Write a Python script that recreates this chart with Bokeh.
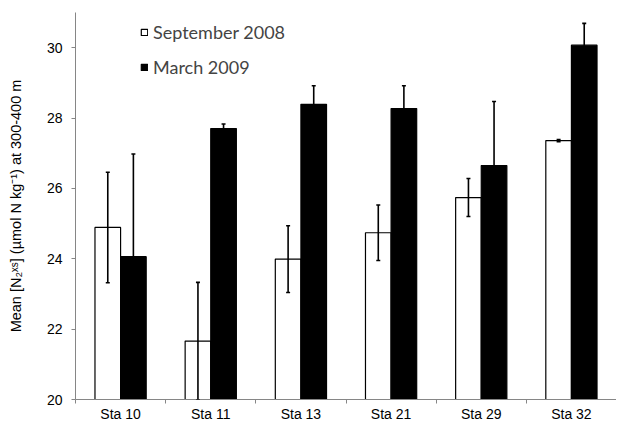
from bokeh.plotting import figure
from bokeh.models import (ColumnDataSource, Range1d, FixedTicker, Whisker, TeeHead,
                          Legend, LegendItem)
from bokeh.transform import dodge
from bokeh.embed import file_html
from bokeh.resources import INLINE

# ---- data ----
stations = ["Sta 10", "Sta 11", "Sta 13", "Sta 21", "Sta 29", "Sta 32"]
sep_mean = [24.89, 21.66, 23.99, 24.74, 25.74, 27.36]
sep_err = [1.57, 1.67, 0.95, 0.79, 0.54, 0.03]
mar_mean = [24.06, 27.70, 28.39, 28.27, 26.65, 30.07]
mar_err = [2.92, 0.13, 0.53, 0.65, 1.82, 0.62]
y_ticks = [20, 22, 24, 26, 28, 30]
series_names = ["September 2008", "March 2009"]

idx = list(range(len(stations)))
src = ColumnDataSource(dict(
    x=idx,
    sep=sep_mean,
    sep_lo=[m - e for m, e in zip(sep_mean, sep_err)],
    sep_hi=[m + e for m, e in zip(sep_mean, sep_err)],
    mar=mar_mean,
    mar_lo=[m - e for m, e in zip(mar_mean, mar_err)],
    mar_hi=[m + e for m, e in zip(mar_mean, mar_err)],
))

y0 = y_ticks[0]
p = figure(width=616, height=424, output_backend="svg", toolbar_location=None,
           x_range=Range1d(-0.5, len(stations) - 0.5), y_range=Range1d(y0, 31),
           min_border_left=75, min_border_right=0, min_border_top=12, min_border_bottom=10)
p.outline_line_color = None
p.xgrid.visible = False
p.ygrid.visible = False

bw = 0.284
off = bw / 2
r_sep = p.vbar(x=dodge("x", -off, range=p.x_range), top="sep", bottom=y0, width=bw, source=src,
               fill_color="white", line_color="black", line_width=1.2)
r_mar = p.vbar(x=dodge("x", off, range=p.x_range), top="mar", bottom=y0, width=bw, source=src,
               fill_color="black", line_color="black", line_width=1.2)

for base_off, lo, hi in [(-off, "sep_lo", "sep_hi"), (off, "mar_lo", "mar_hi")]:
    w = Whisker(source=src, base=dodge("x", base_off, range=p.x_range), lower=lo, upper=hi,
                line_color="black", line_width=1.6, level="annotation",
                upper_head=TeeHead(size=4, line_color="black", line_width=1.6),
                lower_head=TeeHead(size=4, line_color="black", line_width=1.6))
    p.add_layout(w)

axis_gray = "#868686"
# x axis: labels at category centres, ticks at category boundaries
p.xaxis.ticker = FixedTicker(ticks=idx, minor_ticks=[i - 0.5 for i in range(len(stations) + 1)])
p.xaxis.major_label_overrides = {i: s for i, s in zip(idx, stations)}
p.xaxis.major_tick_out = 0
p.xaxis.major_tick_in = 0
p.xaxis.minor_tick_out = 4
p.xaxis.minor_tick_in = 0
p.xaxis.minor_tick_line_color = axis_gray
p.xaxis.axis_line_color = axis_gray
p.xaxis.major_label_standoff = 2
p.xaxis.major_label_text_font = "Liberation Sans"
p.xaxis.major_label_text_font_size = "14px"
p.xaxis.major_label_text_color = "black"

p.yaxis.ticker = FixedTicker(ticks=y_ticks)
p.yaxis.minor_tick_line_color = None
p.yaxis.major_tick_out = 4
p.yaxis.major_tick_in = 0
p.yaxis.major_tick_line_color = axis_gray
p.yaxis.axis_line_color = axis_gray
p.yaxis.major_label_standoff = 9
p.yaxis.major_label_text_font = "Liberation Sans"
p.yaxis.major_label_text_font_size = "14px"
p.yaxis.major_label_text_color = "black"
p.yaxis.axis_label = "Mean [N\u2082\u02E3\u02E2] (\u00B5mol N kg\u207B\u00B9) at 300-400 m"
p.yaxis.axis_label_text_font = "Liberation Sans"
p.yaxis.axis_label_text_font_size = "14.5px"
p.yaxis.axis_label_text_font_style = "normal"
p.yaxis.axis_label_text_color = "black"
p.yaxis.axis_label_standoff = 20

legend = Legend(items=[LegendItem(label=series_names[0], renderers=[r_sep]),
                       LegendItem(label=series_names[1], renderers=[r_mar])],
                location=(65, 321), orientation="vertical",
                border_line_color=None, background_fill_alpha=0,
                label_text_font="Lato", label_text_font_size="18px",
                glyph_width=8, glyph_height=8, label_height=20, spacing=13,
                padding=0, margin=0, label_standoff=5)
p.add_layout(legend, "center")

open("out.html", "w").write(file_html(p, INLINE))
